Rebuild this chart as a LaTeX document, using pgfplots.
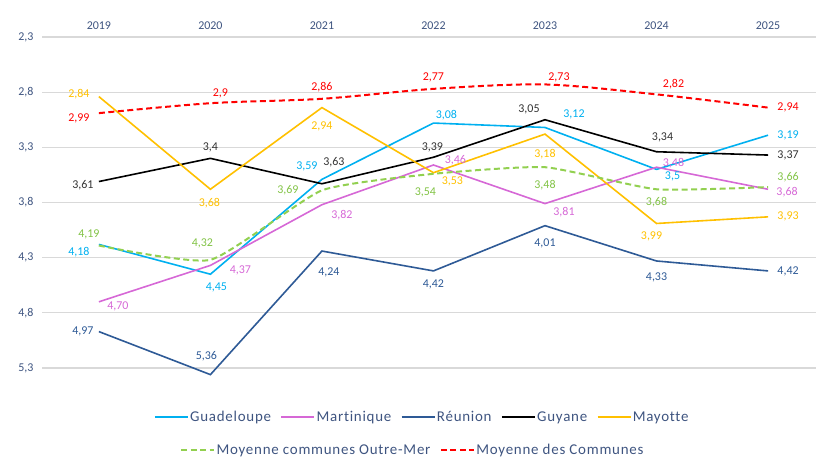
\documentclass[border=0pt]{standalone}
\usepackage{fontspec}
\setmainfont{Carlito}
\usepackage{pgfplots}
\usepackage{pgfplotstable}
\pgfplotsset{compat=1.18}
\definecolor{cGua}{RGB}{0,176,240}
\definecolor{cMar}{RGB}{214,104,214}
\definecolor{cReu}{RGB}{46,90,150}
\definecolor{cGuy}{RGB}{0,0,0}
\definecolor{cGuyT}{RGB}{50,50,50}
\definecolor{cMay}{RGB}{255,192,0}
\definecolor{cOM}{RGB}{146,208,80}
\definecolor{cOMT}{RGB}{130,195,70}
\definecolor{cRed}{RGB}{255,0,0}
\definecolor{cTxt}{RGB}{62,84,128}
\definecolor{cGrid}{RGB}{217,217,217}

\pgfplotstableread{
x y lab dx dy
0 4.18 4,18 -20 -8
1 4.45 4,45 6 -13
2 3.59 3,59 -15 13
3 3.08 3,08 13 8
4 3.12 3,12 29 13
5 3.50 3,5 16 -7
6 3.19 3,19 20 0
}\tGua
\pgfplotstableread{
x y lab dx dy
0 4.70 4,70 19 -5
1 4.37 4,37 30 -5
2 3.82 3,82 20 -10
3 3.46 3,46 22 5
4 3.81 3,81 19 -9
5 3.48 3,48 17 4
6 3.68 3,68 19 -3
}\tMar
\pgfplotstableread{
x y lab dx dy
0 4.97 4,97 -16 0
1 5.36 5,36 -4 18
2 4.24 4,24 7 -21
3 4.42 4,42 0 -13
4 4.01 4,01 0 -18
5 4.33 4,33 0 -16
6 4.42 4,42 20 0
}\tReu
\pgfplotstableread{
x y lab dx dy
0 3.61 3,61 -16 -4
1 3.40 3,4 0 11
2 3.63 3,63 12 22
3 3.39 3,39 -1 10
4 3.05 3,05 -16 10
5 3.34 3,34 6 14
6 3.37 3,37 20 0
}\tGuy
\pgfplotstableread{
x y lab dx dy
0 2.84 2,84 -20 2
1 3.68 3,68 -1 -14
2 2.94 2,94 0 -19
3 3.53 3,53 19 -9
4 3.18 3,18 0 -20
5 3.99 3,99 -5 -13
6 3.93 3,93 20 0
}\tMay
\pgfplotstableread{
x y lab dx dy
0 4.19 4,19 -10 11
1 4.32 4,32 -8 16
2 3.69 3,69 -34 0
3 3.54 3,54 -8 -19
4 3.48 3,48 0 -18
5 3.68 3,68 0 -13
6 3.66 3,66 20 10
}\tOM
\pgfplotstableread{
x y lab dx dy
0 2.99 2,99 -20 -5
1 2.90 2,9 10 10
2 2.86 2,86 0 12
3 2.77 2,77 0 11
4 2.73 2,73 14 7
5 2.82 2,82 17 10
6 2.94 2,94 20 0
}\tRed

\pgfplotsset{
  lbl/.style={
    nodes near coords,
    point meta=explicit symbolic,
    visualization depends on={\thisrow{dx}\as\dx},
    visualization depends on={\thisrow{dy}\as\dy},
    every node near coord/.append style={anchor=center, xshift=\dx bp, yshift=\dy bp,
      font=\fontsize{12}{12}\selectfont, text=#1, inner sep=0pt}
  },
  sGua/.style={color=cGua, line width=1.6bp},
  sMar/.style={color=cMar, line width=1.6bp},
  sReu/.style={color=cReu, line width=1.6bp},
  sGuy/.style={color=cGuy, line width=1.6bp},
  sMay/.style={color=cMay, line width=1.6bp},
  sOM/.style={color=cOM, line width=2bp, dash pattern=on 6bp off 3.5bp},
  sRed/.style={color=cRed, line width=2bp, dash pattern=on 6bp off 3.5bp},
  common/.style={
    scale only axis, width=774bp, height=331bp,
    xmin=-0.51, xmax=6.43, ymin=2.3, ymax=5.3, y dir=reverse,
    legend image code/.code={\draw[##1] (0bp,0bp) -- (33bp,0bp);},
    legend style={draw=none, fill=none, anchor=center,
      font=\fontsize{15}{15}\selectfont\addfontfeature{LetterSpace=5,Ligatures=NoCommon},
      text=cTxt, nodes={inner sep=1.5bp},
      /tikz/every even column/.append style={column sep=8bp}},
  }
}

\begin{document}
\begin{tikzpicture}
\path[use as bounding box] (-42bp,-89bp) rectangle (774bp,368bp);
\begin{axis}[common,
  axis line style={draw=none},
  major tick length=0pt,
  xtick={0,1,2,3,4,5,6},
  xticklabels={2019,2020,2021,2022,2023,2024,2025},
  xticklabel pos=upper,
  xticklabel style={font=\fontsize{12}{12}\selectfont, text=cTxt, yshift=4bp},
  ytick={2.3,2.8,3.3,3.8,4.3,4.8,5.3},
  yticklabel style={font=\fontsize{12}{12}\selectfont, text=cTxt, xshift=-5bp,
    /pgf/number format/.cd, use comma, fixed, fixed zerofill, precision=1, assume math mode=true},
  ymajorgrids,
  grid style={color=cGrid, line width=1.3bp},
  legend columns=5,
  legend style={at={(0.491,-0.148)}},
  clip=false,
]
\addplot[sGua, lbl=cGua] table[x=x, y=y, meta=lab] {\tGua};
\addlegendentry{Guadeloupe}
\addplot[sMar, lbl=cMar] table[x=x, y=y, meta=lab] {\tMar};
\addlegendentry{Martinique}
\addplot[sReu, lbl=cReu] table[x=x, y=y, meta=lab] {\tReu};
\addlegendentry{Réunion}
\addplot[sGuy, lbl=cGuyT] table[x=x, y=y, meta=lab] {\tGuy};
\addlegendentry{Guyane}
\addplot[sMay, lbl=cMay] table[x=x, y=y, meta=lab] {\tMay};
\addlegendentry{Mayotte}
\addplot[sOM, smooth, tension=0.3, lbl=cOMT] table[x=x, y=y, meta=lab] {\tOM};
\addplot[sRed, smooth, tension=0.5, lbl=cRed] table[x=x, y=y, meta=lab] {\tRed};
\end{axis}
\begin{axis}[common, hide axis,
  legend columns=2,
  legend style={at={(0.4787,-0.2477)}},
]
\addlegendimage{sOM}
\addlegendentry{Moyenne communes Outre-Mer}
\addlegendimage{sRed}
\addlegendentry{Moyenne des Communes}
\end{axis}
\end{tikzpicture}
\end{document}
